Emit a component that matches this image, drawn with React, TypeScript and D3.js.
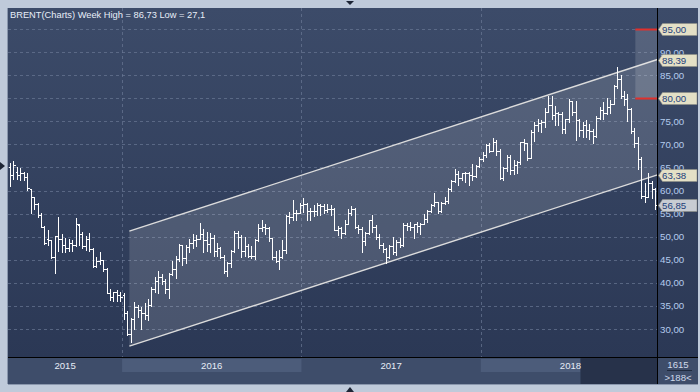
import React, { useEffect, useRef } from 'react';
import * as d3 from 'd3';

type Bar = [number, number, number, number]; // open, high, low, close

// weekly Brent bars, mid-May 2015 .. mid-Dec 2018
const bars2015: Bar[] = [
  [65.0, 66.0, 61.0, 63.4], [63.4, 66.4, 62.4, 65.5], [64.0, 65.2, 62.6, 63.3], [63.3, 64.8, 62.3, 63.9],
  [63.9, 64.1, 62.3, 63.0], [63.0, 63.7, 60.1, 60.5], [60.3, 60.3, 55.1, 58.7], [58.7, 58.7, 56.1, 57.1],
  [57.1, 57.2, 54.3, 54.6], [54.6, 55.1, 52.2, 52.2], [52.2, 52.3, 48.5, 48.6], [49.5, 51.4, 48.2, 49.2],
  [49.2, 49.3, 45.4, 45.5], [45.5, 50.1, 42.2, 50.1], [50.1, 54.3, 47.0, 49.6], [49.6, 50.5, 46.6, 48.1],
  [48.1, 49.8, 46.6, 47.5], [47.5, 49.4, 46.9, 48.6], [48.6, 49.3, 47.0, 48.1], [48.1, 54.0, 48.0, 52.7],
  [52.5, 52.8, 48.3, 50.5], [50.5, 51.0, 47.6, 48.0], [48.0, 50.2, 47.1, 49.6], [49.6, 50.9, 46.9, 47.4],
  [47.4, 47.6, 43.5, 43.6], [43.6, 45.7, 43.4, 44.7], [44.7, 46.6, 44.1, 44.9], [44.9, 45.0, 42.6, 43.0],
  [43.0, 43.2, 37.9, 37.9], [37.9, 38.6, 36.2, 36.9], [36.9, 38.1, 36.0, 38.1], [38.1, 38.5, 36.1, 37.3],
  [37.3, 38.0, 36.0, 37.0],
];
const bars2016: Bar[] = [
  [37.3, 37.8, 32.2, 33.5], [33.5, 33.8, 28.8, 28.9], [28.9, 32.3, 27.1, 32.2], [32.2, 35.8, 30.1, 34.7],
  [34.7, 35.3, 32.6, 34.1], [34.1, 34.8, 30.1, 33.4], [33.4, 35.6, 32.2, 33.0], [33.0, 36.5, 32.0, 35.1],
  [35.1, 39.0, 35.0, 38.7], [38.7, 41.2, 38.1, 40.4], [40.4, 42.5, 37.8, 41.2], [41.2, 42.0, 39.8, 40.4],
  [40.4, 40.9, 37.7, 38.7], [38.7, 42.1, 36.8, 41.9], [41.9, 44.7, 41.6, 43.1], [43.1, 45.9, 41.0, 45.1],
  [45.1, 48.5, 44.8, 48.1], [48.1, 48.2, 43.8, 45.4], [45.4, 48.1, 44.2, 47.8], [47.8, 49.6, 46.7, 48.7],
  [48.7, 50.5, 47.5, 49.3], [49.3, 50.4, 48.0, 49.6], [49.6, 52.9, 49.4, 50.5], [50.5, 51.7, 46.6, 49.2],
  [49.2, 51.0, 46.9, 48.4], [48.4, 50.8, 46.6, 49.7], [49.7, 50.4, 45.9, 46.8], [46.8, 48.6, 45.8, 47.6],
  [47.6, 47.8, 45.4, 45.7], [45.7, 46.1, 42.1, 42.5], [42.5, 44.6, 41.5, 44.3], [44.3, 47.1, 43.4, 47.0],
  [47.0, 51.2, 46.6, 50.9], [50.9, 51.2, 47.5, 49.9], [49.9, 50.3, 45.6, 46.8], [46.8, 49.9, 45.9, 48.0],
  [48.0, 48.4, 45.6, 45.8], [45.8, 48.0, 45.3, 45.9], [45.9, 49.6, 45.1, 49.2], [49.2, 52.8, 49.1, 51.9],
  [51.9, 53.7, 51.3, 52.0], [52.0, 52.8, 50.6, 51.8], [51.8, 52.2, 49.1, 49.7], [49.7, 49.8, 45.2, 45.6],
  [45.6, 46.8, 44.6, 44.8], [44.8, 47.2, 43.1, 45.7], [45.7, 49.3, 45.4, 47.2], [47.2, 54.6, 46.5, 54.5],
  [54.5, 55.3, 53.0, 54.3], [54.3, 57.9, 53.6, 55.2], [55.2, 55.8, 53.6, 55.2], [55.2, 57.2, 55.2, 56.8],
];
const bars2017: Bar[] = [
  [56.8, 58.4, 55.4, 57.1], [57.1, 57.3, 53.6, 55.5], [55.5, 56.2, 53.6, 55.5], [55.5, 56.8, 54.5, 55.5],
  [55.5, 57.2, 54.8, 56.8], [56.8, 57.1, 54.6, 56.7], [56.7, 57.1, 55.2, 55.8], [55.8, 57.1, 55.3, 56.0],
  [56.0, 56.8, 54.8, 55.9], [55.9, 56.3, 51.4, 51.4], [51.4, 52.4, 50.3, 51.8], [51.8, 52.1, 49.7, 50.8],
  [50.8, 53.6, 50.6, 52.8], [52.8, 55.9, 52.7, 55.2], [55.2, 56.7, 54.8, 55.9], [55.9, 56.3, 51.8, 52.0],
  [52.0, 52.6, 50.7, 51.7], [51.7, 52.0, 46.6, 49.1], [49.1, 51.1, 48.3, 50.8], [50.8, 53.7, 50.5, 53.6],
  [53.6, 54.7, 51.0, 52.2], [52.2, 52.5, 49.5, 50.0], [50.0, 50.5, 47.5, 48.2], [48.2, 48.7, 46.7, 47.4],
  [47.4, 47.5, 44.3, 45.5], [45.5, 48.1, 45.3, 47.9], [47.9, 50.0, 46.3, 46.7], [46.7, 49.2, 46.1, 48.9],
  [48.9, 49.8, 47.7, 48.1], [48.1, 52.9, 47.9, 52.5], [52.5, 53.0, 51.4, 52.4], [52.4, 53.1, 51.4, 52.1],
  [52.1, 52.7, 49.7, 52.7], [52.7, 53.2, 51.0, 52.4], [52.4, 53.0, 50.6, 52.8], [52.8, 54.9, 52.7, 53.8],
  [53.8, 55.7, 53.1, 55.6], [55.6, 57.0, 55.4, 56.9], [56.9, 59.5, 56.6, 57.5], [57.5, 57.6, 55.2, 55.6],
  [55.6, 57.5, 55.4, 57.2], [57.2, 58.5, 57.0, 57.8], [57.8, 60.5, 57.4, 60.4], [60.4, 62.3, 59.9, 62.1],
  [62.1, 64.7, 61.9, 63.5], [63.5, 64.3, 61.1, 62.7], [62.7, 63.9, 62.2, 63.9], [63.9, 64.0, 61.8, 63.7],
  [63.7, 64.0, 61.3, 63.4], [63.4, 65.8, 62.2, 63.2], [63.2, 65.6, 63.0, 65.3], [65.3, 67.3, 65.1, 66.9],
];
const bars2018: Bar[] = [
  [66.9, 68.3, 66.3, 67.6], [67.6, 70.1, 67.3, 69.9], [69.9, 70.4, 68.3, 68.6], [68.6, 71.3, 68.5, 70.5],
  [70.5, 71.0, 67.7, 68.6], [68.6, 68.9, 62.5, 62.8], [62.8, 65.2, 62.3, 64.8], [64.8, 67.6, 64.2, 67.3],
  [67.3, 67.6, 63.5, 64.4], [64.4, 66.6, 63.6, 65.5], [65.5, 66.3, 63.9, 66.2], [66.2, 70.6, 65.7, 70.5],
  [70.5, 71.2, 68.8, 70.3], [70.3, 70.4, 66.6, 67.1], [67.1, 73.1, 67.0, 72.6], [72.6, 74.8, 70.7, 74.1],
  [74.1, 75.5, 72.8, 74.6], [74.6, 75.3, 72.7, 74.9], [74.9, 77.8, 73.8, 77.1], [77.1, 80.5, 77.0, 78.5],
  [78.5, 80.4, 75.6, 76.4], [76.4, 78.3, 74.1, 76.8], [76.8, 77.0, 74.3, 76.5], [76.5, 77.0, 72.5, 73.4],
  [73.4, 75.6, 72.4, 75.6], [75.6, 79.8, 74.8, 79.4], [79.4, 79.5, 76.4, 77.1], [77.1, 79.4, 71.0, 75.3],
  [75.3, 75.4, 71.9, 73.1], [73.1, 74.9, 71.6, 74.3], [74.3, 75.3, 71.7, 73.2], [73.2, 74.5, 71.2, 72.8],
  [72.8, 73.4, 70.3, 71.8], [71.8, 76.1, 71.6, 75.8], [75.8, 78.2, 75.5, 77.4], [77.4, 79.1, 75.6, 76.8],
  [76.8, 80.1, 76.6, 78.1], [78.1, 79.6, 76.9, 78.8], [78.8, 82.9, 78.7, 82.7], [82.7, 86.73, 82.3, 84.2],
  [84.2, 85.1, 80.0, 80.4], [80.4, 81.5, 78.5, 79.8], [79.8, 80.9, 75.1, 77.6], [77.6, 77.9, 72.4, 72.8],
  [72.8, 73.5, 69.4, 70.2], [70.2, 71.7, 64.6, 66.8], [66.8, 67.3, 58.4, 58.8], [58.8, 61.7, 57.5, 58.7],
  [58.7, 63.7, 58.6, 61.7], [61.7, 62.0, 58.4, 60.3], [60.3, 60.5, 55.9, 56.85],
];

const years = ['2015', '2016', '2017', '2018'];
const yearBreaks = [32.5, 84.5, 136.5]; // bar index where a new year begins
const gridTicks = [30, 35, 40, 45, 50, 55, 60, 65, 70, 75, 80, 85, 90, 95];
const labelTicks = [30, 35, 40, 45, 50, 55, 60, 65, 70, 75, 85, 90]; // 80 and 95 sit under markers

// trend channel (bar index, price)
const channelIdx = [34.6, 187.7];
const channelUpper = [51.2, 88.39];
const channelLower = [26.3, 63.38];

// target zone on the right
const zoneTop = 95;
const zoneBottom = 80;

const markers = [
  { v: 95, fill: '#e4e0c6' },
  { v: 88.39, fill: '#e4e0c6' },
  { v: 80, fill: '#e4e0c6' },
  { v: 63.38, fill: '#e4e0c6' },
  { v: 56.85, fill: '#c8ccd3' },
];

const fmt = (v: number) => v.toFixed(2).replace('.', ',');

const App = () => {
  const ref = useRef<HTMLDivElement>(null);

  useEffect(() => {
    const bars = [...bars2015, ...bars2016, ...bars2017, ...bars2018];
    const W = 700, H = 392;
    const L = 8, T = 8, R = 657.5, B = 357, AB = 384;
    const font = '"Liberation Sans", Arial, sans-serif';
    const fs = 9.3;

    const x = d3.scaleLinear().domain([0, bars.length - 1]).range([10, 655]);
    const y = d3.scaleLinear().domain([95, 30]).range([29, 329]);

    const svg = d3.create('svg')
      .attr('width', W)
      .attr('height', H)
      .attr('viewBox', [0, 0, W, H])
      .attr('style', 'position:absolute;left:0;top:0;display:block');

    const defs = svg.append('defs');
    const grad = defs.append('linearGradient').attr('id', 'bg').attr('x1', 0).attr('y1', 0).attr('x2', 0).attr('y2', 1);
    grad.append('stop').attr('offset', '0%').attr('stop-color', '#3c4b69');
    grad.append('stop').attr('offset', '100%').attr('stop-color', '#2b3855');

    // frame
    svg.append('rect').attr('width', W).attr('height', H).attr('fill', '#bfcada');
    svg.append('rect').attr('x', L).attr('y', T).attr('width', 698 - L).attr('height', B - T).attr('fill', 'url(#bg)');

    // horizontal grid
    svg.append('g')
      .selectAll('line')
      .data(gridTicks)
      .join('line')
      .attr('x1', L).attr('x2', R)
      .attr('y1', d => Math.round(y(d)) + 0.5).attr('y2', d => Math.round(y(d)) + 0.5)
      .attr('stroke', '#6a7894').attr('stroke-opacity', 0.7)
      .attr('stroke-dasharray', '3,3');

    // vertical grid at year breaks
    svg.append('g')
      .selectAll('line')
      .data(yearBreaks)
      .join('line')
      .attr('x1', d => Math.round(x(d)) + 0.5).attr('x2', d => Math.round(x(d)) + 0.5)
      .attr('y1', T).attr('y2', B)
      .attr('stroke', '#6a7894').attr('stroke-opacity', 0.7)
      .attr('stroke-dasharray', '3,3');

    // channel
    const cx0 = x(channelIdx[0]), cx1 = x(channelIdx[1]);
    svg.append('path')
      .attr('d', `M${cx0},${y(channelUpper[0])}L${cx1},${y(channelUpper[1])}L${cx1},${y(channelLower[1])}L${cx0},${y(channelLower[0])}Z`)
      .attr('fill', '#ffffff').attr('fill-opacity', 0.14);
    [channelUpper, channelLower].forEach(c => {
      svg.append('line')
        .attr('x1', cx0).attr('y1', y(c[0]))
        .attr('x2', cx1).attr('y2', y(c[1]))
        .attr('stroke', '#dcdcdc').attr('stroke-width', 1.4);
    });

    // target zone
    const zx0 = x(181.3);
    svg.append('rect')
      .attr('x', zx0).attr('y', y(zoneTop))
      .attr('width', R - zx0).attr('height', y(zoneBottom) - y(zoneTop))
      .attr('fill', '#ffffff').attr('fill-opacity', 0.14);
    [zoneTop, zoneBottom].forEach(v => {
      svg.append('line')
        .attr('x1', zx0).attr('x2', R)
        .attr('y1', Math.round(y(v)) + 0.5).attr('y2', Math.round(y(v)) + 0.5)
        .attr('stroke', '#e0302c').attr('stroke-width', 2);
    });

    // OHLC bars
    const bg = svg.append('g').attr('stroke', '#ffffff').attr('stroke-width', 1).attr('shape-rendering', 'crispEdges');
    bars.forEach((b, i) => {
      const xi = Math.round(x(i)) + 0.5;
      const [o, h, l, c] = b;
      bg.append('line').attr('x1', xi).attr('x2', xi).attr('y1', Math.round(y(h))).attr('y2', Math.round(y(l)) + 1);
      bg.append('line').attr('x1', xi - 2).attr('x2', xi).attr('y1', Math.round(y(o)) + 0.5).attr('y2', Math.round(y(o)) + 0.5);
      bg.append('line').attr('x1', xi).attr('x2', xi + 2).attr('y1', Math.round(y(c)) + 0.5).attr('y2', Math.round(y(c)) + 0.5);
    });

    // title
    svg.append('text')
      .attr('x', 10).attr('y', 18)
      .attr('fill', '#e8eef8')
      .attr('font-family', font).attr('font-size', fs)
      .text('BRENT(Charts) Week High = 86,73 Low = 27,1');

    // right axis
    svg.append('line').attr('x1', R).attr('x2', R).attr('y1', T).attr('y2', AB).attr('stroke', '#000');
    svg.append('g')
      .selectAll('text')
      .data(labelTicks)
      .join('text')
      .attr('x', 660).attr('y', d => y(d) + 3.5)
      .attr('fill', '#b4cbee')
      .attr('font-family', font).attr('font-size', fs + 0.4)
      .text(d => fmt(d));

    // price markers
    const mk = svg.append('g');
    markers.forEach(m => {
      const yy = Math.round(y(m.v)) + 0.5;
      mk.append('path')
        .attr('d', `M${R + 1},${yy}L${R + 5},${yy - 6}L697,${yy - 6}L697,${yy + 6}L${R + 5},${yy + 6}Z`)
        .attr('fill', m.fill).attr('stroke', '#8d8f86').attr('stroke-width', 0.6);
      mk.append('text')
        .attr('x', 662).attr('y', yy + 3.5)
        .attr('fill', '#24407a')
        .attr('font-family', font).attr('font-size', fs + 0.4)
        .text(fmt(m.v));
    });

    // bottom axis
    svg.append('rect').attr('x', L).attr('y', B).attr('width', 698 - L).attr('height', AB - B).attr('fill', '#3e4d6a');
    const lastLight = x(165.4);
    [[yearBreaks[0], yearBreaks[1]], [yearBreaks[2], 165.4]].forEach(([a, b]) => {
      svg.append('rect').attr('x', x(a)).attr('y', B + 2).attr('width', x(b) - x(a)).attr('height', 13).attr('fill', '#4c5c7a');
    });
    svg.append('rect').attr('x', lastLight).attr('y', B + 1).attr('width', R - lastLight).attr('height', AB - B - 1).attr('fill', '#27324a');
    svg.append('line').attr('x1', L).attr('x2', 698).attr('y1', B + 0.5).attr('y2', B + 0.5).attr('stroke', '#000');
    svg.append('line').attr('x1', L).attr('x2', 698).attr('y1', AB + 0.5).attr('y2', AB + 0.5).attr('stroke', '#8a97ad');
    svg.append('line').attr('x1', L - 0.5).attr('x2', L - 0.5).attr('y1', T).attr('y2', AB).attr('stroke', '#8a97ad');
    svg.append('line').attr('x1', R).attr('x2', R).attr('y1', B).attr('y2', AB).attr('stroke', '#000');

    const yearX = [(L + x(yearBreaks[0])) / 2, ...yearBreaks.map(b => x(b + 26))];
    svg.append('g')
      .selectAll('text')
      .data(years)
      .join('text')
      .attr('x', (d, i) => yearX[i]).attr('y', 369)
      .attr('text-anchor', 'middle')
      .attr('fill', '#e6ecf6')
      .attr('font-family', font).attr('font-size', fs + 0.3)
      .text(d => d);

    svg.append('text').attr('x', 678).attr('y', 368).attr('text-anchor', 'middle')
      .attr('fill', '#d0dbeb').attr('font-family', font).attr('font-size', fs + 0.3).text('1615');
    svg.append('line').attr('x1', 667).attr('x2', 692).attr('y1', 370.5).attr('y2', 370.5).attr('stroke', '#1f2a3e');
    svg.append('text').attr('x', 678).attr('y', 381).attr('text-anchor', 'middle')
      .attr('fill', '#d0dbeb').attr('font-family', font).attr('font-size', fs + 0.3).text(`>${bars.length}<`);

    // little scroll arrows
    svg.append('path').attr('d', 'M346,1L354,1L350,5Z').attr('fill', '#1d2535');
    svg.append('path').attr('d', 'M346,392L354,392L350,387Z').attr('fill', '#1d2535');
    svg.append('path').attr('d', 'M0,162L5,166L0,170Z').attr('fill', '#1d2535');

    if (ref.current) {
      ref.current.innerHTML = '';
      ref.current.appendChild(svg.node()!);
    }
  }, []);

  return <div ref={ref} style={{ width: 700, height: 392 }}></div>;
};

export default App;
